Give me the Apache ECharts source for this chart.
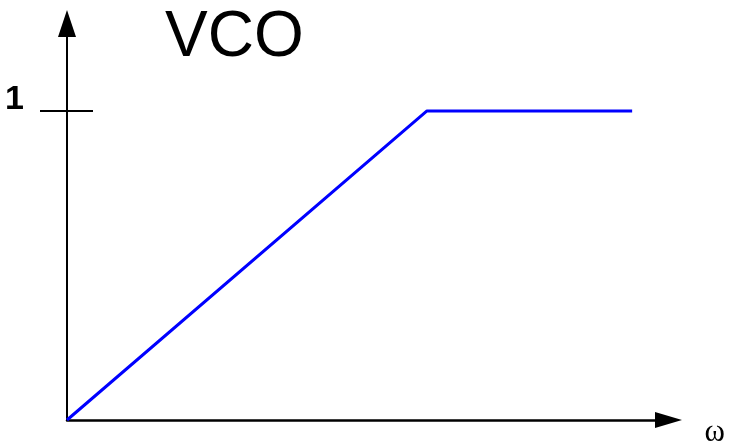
<!DOCTYPE html>
<html>
<head>
<meta charset="utf-8">
<script src="https://cdn.jsdelivr.net/npm/echarts@6/dist/echarts.min.js"></script>
<style>
  html, body { margin: 0; padding: 0; background: #fff; }
  #main { width: 730px; height: 442px; }
</style>
</head>
<body>
<div id="main"></div>
<script>
// VCO gain curve: rises linearly, then saturates at 1
var omega = [0, 1, 1.57];
var vco = [0, 1, 1];
var yTicks = [1];

var chartDom = document.getElementById('main');
var myChart = echarts.init(chartDom);

var points = omega.map(function (x, i) { return [x, vco[i]]; });

var option = {
  animation: false,
  title: {
    text: 'VCO',
    left: 160,
    top: 1,
    textStyle: { fontFamily: 'Liberation Sans', fontSize: 64, fontWeight: 'normal', color: '#000' }
  },
  grid: { left: 67, right: 61.5, top: 23.5, bottom: 22, outerBoundsMode: 'none' },
  xAxis: {
    type: 'value',
    min: 0,
    max: 1.671,
    name: 'ω',
    nameLocation: 'end',
    nameGap: 36,
    nameTextStyle: { fontFamily: 'Liberation Serif', fontSize: 31, color: '#000', verticalAlign: 'top', padding: [-3, 0, 0, 0] },
    axisLine: { lineStyle: { color: '#000', width: 2.5 }, symbol: ['none', 'triangle'], symbolSize: [16, 27] },
    axisTick: { show: false },
    axisLabel: { show: false },
    splitLine: { show: false }
  },
  yAxis: [
    {
      type: 'value',
      min: 0,
      max: 1.283,
      interval: 1,
      axisLine: { lineStyle: { color: '#000', width: 2 }, symbol: ['none', 'triangle'], symbolSize: [18, 27] },
      axisTick: { show: true, inside: false, length: 27, customValues: yTicks, lineStyle: { color: '#000', width: 2 } },
      axisLabel: {
        show: true,
        margin: 43,
        showMinLabel: false,
        formatter: function (v) { return yTicks.indexOf(v) >= 0 ? String(v) : ''; },
        fontFamily: 'Liberation Sans',
        fontSize: 34,
        fontWeight: 'bold',
        color: '#000',
        verticalAlign: 'bottom',
        lineHeight: 22
      },
      splitLine: { show: false }
    },
    {
      type: 'value',
      position: 'left',
      min: 0,
      max: 1.283,
      axisLine: { show: false },
      axisTick: { show: true, inside: true, length: 26, customValues: yTicks, lineStyle: { color: '#000', width: 2 } },
      axisLabel: { show: false },
      splitLine: { show: false }
    }
  ],
  series: [
    {
      type: 'line',
      data: points,
      symbol: 'none',
      lineStyle: { color: '#0000ff', width: 3 }
    }
  ]
};

option && myChart.setOption(option);
</script>
</body>
</html>
